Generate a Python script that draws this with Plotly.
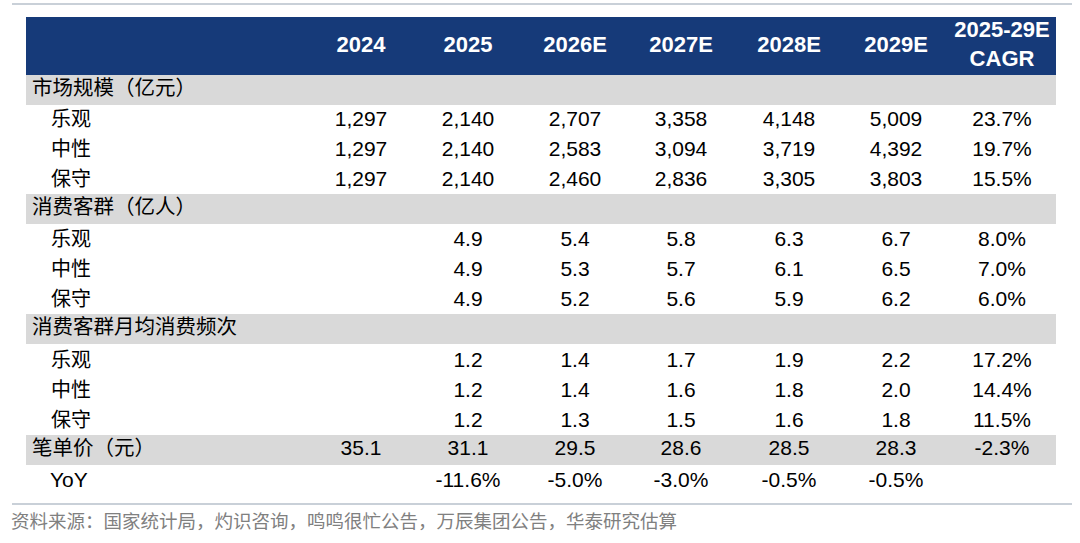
import plotly.graph_objects as go

columns = ["2024", "2025", "2026E", "2027E", "2028E", "2029E", "2025-29E<br>CAGR"]
scenarios = ["乐观", "中性", "保守"]

market_title = "市场规模（亿元）"
market_size = [
    [1297, 2140, 2707, 3358, 4148, 5009],
    [1297, 2140, 2583, 3094, 3719, 4392],
    [1297, 2140, 2460, 2836, 3305, 3803],
]
market_cagr = [23.7, 19.7, 15.5]

customers_title = "消费客群（亿人）"
customers = [
    [None, 4.9, 5.4, 5.8, 6.3, 6.7],
    [None, 4.9, 5.3, 5.7, 6.1, 6.5],
    [None, 4.9, 5.2, 5.6, 5.9, 6.2],
]
customers_cagr = [8.0, 7.0, 6.0]

frequency_title = "消费客群月均消费频次"
frequency = [
    [None, 1.2, 1.4, 1.7, 1.9, 2.2],
    [None, 1.2, 1.4, 1.6, 1.8, 2.0],
    [None, 1.2, 1.3, 1.5, 1.6, 1.8],
]
frequency_cagr = [17.2, 14.4, 11.5]

price_title = "笔单价（元）"
price = [35.1, 31.1, 29.5, 28.6, 28.5, 28.3]
price_cagr = -2.3
yoy_label = "YoY"
price_yoy = [None, -11.6, -5.0, -3.0, -0.5, -0.5]

source_note = "资料来源：国家统计局，灼识咨询，鸣鸣很忙公告，万辰集团公告，华泰研究估算"


def fmt(v, kind):
    if v is None:
        return ""
    if kind == "int":
        return f"{v:,.0f}"
    if kind == "pct":
        return f"{v:.1f}%"
    return f"{v:.1f}"


# build rows: (label, is_section, cell strings)
rows = []
rows.append((market_title, True, [""] * 7))
for lab, vals, c in zip(scenarios, market_size, market_cagr):
    rows.append((lab, False, [fmt(v, "int") for v in vals] + [fmt(c, "pct")]))
rows.append((customers_title, True, [""] * 7))
for lab, vals, c in zip(scenarios, customers, customers_cagr):
    rows.append((lab, False, [fmt(v, "f1") for v in vals] + [fmt(c, "pct")]))
rows.append((frequency_title, True, [""] * 7))
for lab, vals, c in zip(scenarios, frequency, frequency_cagr):
    rows.append((lab, False, [fmt(v, "f1") for v in vals] + [fmt(c, "pct")]))
rows.append((price_title, True, [fmt(v, "f1") for v in price] + [fmt(price_cagr, "pct")]))
rows.append((yoy_label, False, [fmt(v, "pct") for v in price_yoy] + [""]))

# ---- layout geometry (pixels) ----
W, H = 1080, 543
col_x = [361, 468, 575, 681, 789, 896, 1002]
row_y = [90, 121, 151, 181, 209, 241, 271, 301, 329, 362, 392, 422, 450, 482]
table_left, table_right = 26, 1056
header_top, header_bot = 17, 75
section_half = 15

NAVY = "#163a79"
GRAY = "#d9d9d9"
RULE = "#c9d0d8"
CJK = "Noto Sans CJK SC"
LATIN = "Liberation Sans, Arial, sans-serif"

fig = go.Figure()

shapes = [
    dict(type="rect", x0=table_left, x1=table_right, y0=header_top, y1=header_bot,
         fillcolor=NAVY, line_width=0, layer="below"),
    dict(type="line", x0=12, x1=1072, y0=4, y1=4, line=dict(color=RULE, width=2)),
    dict(type="line", x0=12, x1=1072, y0=504, y1=504, line=dict(color=RULE, width=2)),
]
for (lab, is_sec, cells), y in zip(rows, row_y):
    if is_sec:
        shapes.append(dict(type="rect", x0=table_left, x1=table_right,
                           y0=y - section_half, y1=y + section_half,
                           fillcolor=GRAY, line_width=0, layer="below"))

# header text
fig.add_trace(go.Scatter(
    x=col_x, y=[(header_top + header_bot) / 2] * len(columns),
    mode="text", text=columns, textposition="middle center",
    textfont=dict(family=LATIN, size=22, color="white", weight="bold"),
    hoverinfo="skip", showlegend=False,
))

# row labels
sec_y = [y for (lab, s, c), y in zip(rows, row_y) if s]
sec_t = [lab for (lab, s, c) in rows if s]
fig.add_trace(go.Scatter(
    x=[32] * len(sec_t), y=sec_y, mode="text", text=sec_t,
    textposition="middle right",
    textfont=dict(family=CJK, size=20.5, color="black"),
    hoverinfo="skip", showlegend=False,
))
item_y = [y for (lab, s, c), y in zip(rows, row_y) if not s and lab != yoy_label]
item_t = [lab for (lab, s, c) in rows if not s and lab != yoy_label]
fig.add_trace(go.Scatter(
    x=[51] * len(item_t), y=item_y, mode="text", text=item_t,
    textposition="middle right",
    textfont=dict(family=CJK, size=20, color="black"),
    hoverinfo="skip", showlegend=False,
))
fig.add_trace(go.Scatter(
    x=[50], y=[row_y[-1]], mode="text", text=[yoy_label],
    textposition="middle right",
    textfont=dict(family=LATIN, size=21, color="black"),
    hoverinfo="skip", showlegend=False,
))

# cell values, one trace per column
for j, cx in enumerate(col_x):
    fig.add_trace(go.Scatter(
        x=[cx] * len(rows), y=row_y, mode="text",
        text=[r[2][j] for r in rows], textposition="middle center",
        textfont=dict(family=LATIN, size=21, color="black"),
        hoverinfo="skip", showlegend=False,
    ))

# source note
fig.add_trace(go.Scatter(
    x=[11], y=[523], mode="text", text=[source_note], textposition="middle right",
    textfont=dict(family=CJK, size=18.5, color="#808080"),
    hoverinfo="skip", showlegend=False,
))

fig.update_layout(
    width=W, height=H,
    margin=dict(l=0, r=0, t=0, b=0),
    paper_bgcolor="white", plot_bgcolor="white",
    shapes=shapes,
    hovermode=False,
    xaxis=dict(range=[0, W], visible=False, fixedrange=True),
    yaxis=dict(range=[H, 0], visible=False, fixedrange=True),
)

# drop the default body margin so the figure sits at the page origin
fig.write_html("out.html", config={"displayModeBar": False},
               post_script="document.body.style.margin='0';")
